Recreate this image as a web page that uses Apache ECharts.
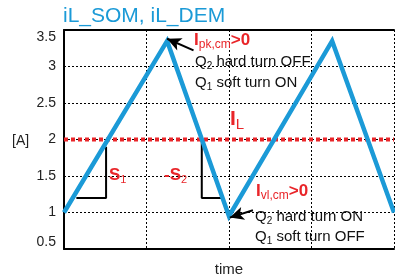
<!DOCTYPE html>
<html>
<head>
<meta charset="utf-8">
<script src="https://cdn.jsdelivr.net/npm/echarts@6/dist/echarts.min.js"></script>
<style>html,body{margin:0;padding:0;background:#fff}#c{width:395px;height:276px}</style>
</head>
<body>
<div id="c"></div>
<script>
// Inductor current waveform (time in grid units, current in A)
var timePts = [0, 1.25, 2, 3.25, 4];
var currentPts = [1, 3.35, 0.95, 3.35, 1];
var avgTime = [0, 4];
var avgCurrent = [2, 2];
var yTicks = [0.5, 1, 1.5, 2, 2.5, 3, 3.5];
// slope helper triangles
var tri1X = [0.15, 0.51, 0.51], tri1Y = [1.2, 1.2, 1.9];
var tri2X = [1.915, 1.67, 1.67], tri2Y = [1.2, 1.2, 2.0];
// arrows [tailX, tailY, tipX, tipY]
var arrowPk = [1.57, 3.22, 1.25, 3.38];
var arrowVl = [2.29, 1.03, 2.01, 0.93];

var BLUE = '#1b9ad7', RED = '#e92529', FAM = '"Liberation Sans", Arial, sans-serif';

function zip(a, b) { return a.map(function (v, i) { return [v, b[i]]; }); }

var chart = echarts.init(document.getElementById('c'), null, {renderer: 'canvas'});

function txt(x, y, text, rich) {
  return {type: 'text', x: x, y: y, z: 100, style: {text: text, rich: rich, verticalAlign: 'middle', align: 'left', font: '15px ' + FAM, fill: '#111'}};
}
function richSet(color, big, small, drop, weight) {
  var w = weight ? weight + ' ' : '';
  return {
    b: {font: w + big + 'px ' + FAM, fill: color},
    s: {font: small + 'px ' + FAM, fill: color, padding: [drop, 0, 0, 0]}
  };
}

var option = {
  animation: false,
  backgroundColor: '#fff',
  grid: {left: 64, top: 30, right: 1, bottom: 27, containLabel: false, outerBoundsMode: 'none'},
  xAxis: [{
    type: 'value', min: 0, max: 4, interval: 1,
    axisLine: {show: true, lineStyle: {color: '#000', width: 2}},
    axisTick: {show: false}, axisLabel: {show: false},
    splitLine: {show: true, lineStyle: {color: '#000', width: 1, type: [2, 2]}},
    name: 'time', nameLocation: 'middle', nameGap: 13,
    nameTextStyle: {fontSize: 15, fontFamily: FAM, color: '#222'}
  }, {
    type: 'value', min: 0, max: 4, position: 'top',
    axisLine: {show: true, onZero: false, lineStyle: {color: '#000', width: 2}},
    axisTick: {show: false}, axisLabel: {show: false}, splitLine: {show: false}
  }],
  yAxis: {
    type: 'value', min: yTicks[0], max: yTicks[yTicks.length - 1], interval: 0.5,
    axisLine: {show: true, onZero: false, lineStyle: {color: '#000', width: 2}},
    axisTick: {show: false},
    axisLabel: {fontSize: 14, fontFamily: FAM, color: '#222', margin: 8,
      verticalAlignMinLabel: 'bottom', verticalAlignMaxLabel: 'top'},
    splitLine: {show: true, lineStyle: {color: '#000', width: 1, type: [2, 2]}}
  },
  series: [
    {type: 'line', data: zip(avgTime, avgCurrent), symbol: 'none', z: 3,
     lineStyle: {color: RED, width: 4, type: [4, 3]}},
    {type: 'line', data: zip(tri1X, tri1Y), symbol: 'none', z: 2,
     lineStyle: {color: '#000', width: 2}},
    {type: 'line', data: zip(tri2X, tri2Y), symbol: 'none', z: 2,
     lineStyle: {color: '#000', width: 2}},
    {type: 'line', data: zip(timePts, currentPts), symbol: 'none', z: 4,
     lineStyle: {color: BLUE, width: 4.5, join: 'miter'},
     markLine: {
       silent: true, symbol: ['none', 'arrow'], symbolSize: [10, 14],
       label: {show: false},
       lineStyle: {color: '#000', width: 2, type: 'solid'},
       data: [
         [{coord: [arrowPk[0], arrowPk[1]]}, {coord: [arrowPk[2], arrowPk[3]]}],
         [{coord: [arrowVl[0], arrowVl[1]]}, {coord: [arrowVl[2], arrowVl[3]]}]
       ]
     }}
  ],
  graphic: [
    {type: 'text', x: 63, y: 16, style: {text: 'iL_SOM, iL_DEM', font: '21px ' + FAM, fill: BLUE, verticalAlign: 'middle'}},
    {type: 'text', x: 12, y: 141, style: {text: '[A]', font: '14px ' + FAM, fill: '#222', verticalAlign: 'middle'}},
    txt(194, 40, '{b|I}{s|pk,cm}{b|>0}', richSet(RED, 17, 12, 9, 'bold')),
    txt(195, 62, '{b|Q}{s|2}{b| hard turn OFF}', richSet('#111', 15, 10, 8)),
    txt(195, 83, '{b|Q}{s|1}{b| soft turn ON}', richSet('#111', 15, 10, 8)),
    txt(230, 119, '{b|I}{s|L}', richSet(RED, 21, 15, 12, 'bold')),
    txt(109, 175, '{b|S}{s|1}', richSet(RED, 17, 11, 10, 'bold')),
    txt(164, 175, '{b|-S}{s|2}', richSet(RED, 17, 11, 10, 'bold')),
    txt(256, 191, '{b|I}{s|vl,cm}{b|>0}', richSet(RED, 17, 12, 9, 'bold')),
    txt(255, 217, '{b|Q}{s|2}{b| hard turn ON}', richSet('#111', 15, 10, 8)),
    txt(255, 237, '{b|Q}{s|1}{b| soft turn OFF}', richSet('#111', 15, 10, 8))
  ]
};
chart.setOption(option);
</script>
</body>
</html>
